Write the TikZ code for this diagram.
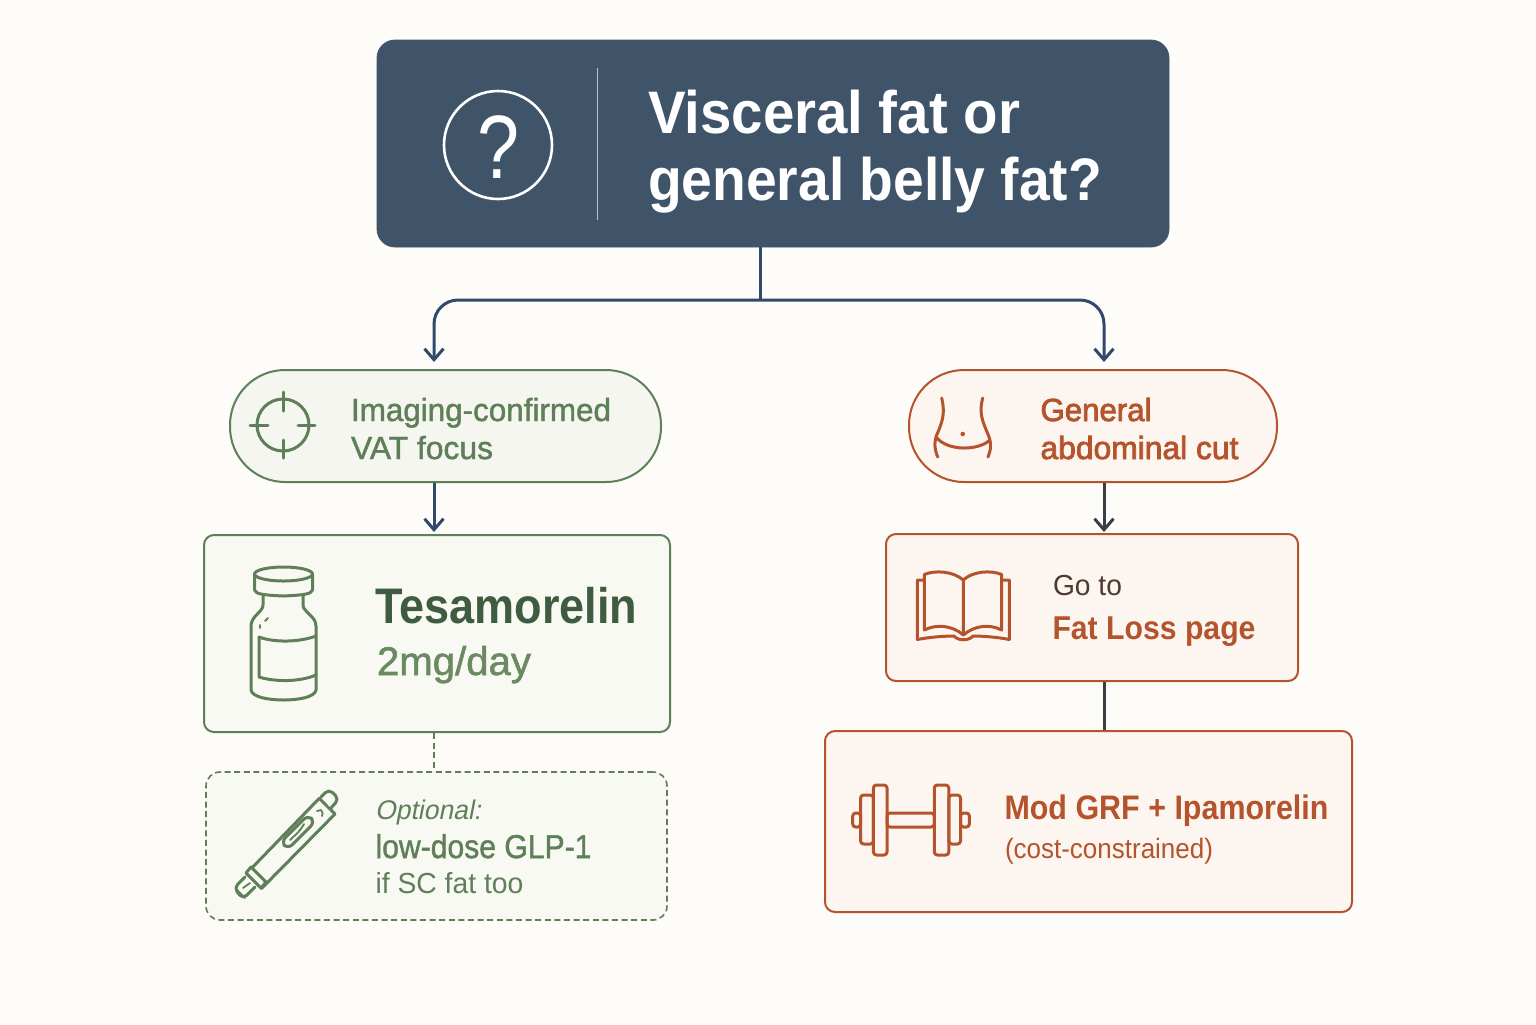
\documentclass[tikz,border=0pt]{standalone}
\usepackage{fontspec}
\usepackage{graphicx}
\usetikzlibrary{arrows.meta}
\setmainfont{Liberation Sans}
\newfontfamily\medf[FakeBold=1.4]{Liberation Sans}
\newfontfamily\semf[FakeBold=2.4]{Liberation Sans}
\newfontfamily\hvyf{Liberation Sans Bold}
\newsavebox\fitbox
\newcommand\fitw[2]{\sbox\fitbox{#2}\pgfmathsetmacro\fitr{(#1/2)/\the\wd\fitbox}\scalebox{\fitr}[1]{\usebox\fitbox}}
\definecolor{bgc}{HTML}{FEFCF8}
\definecolor{navy}{HTML}{3F5469}
\definecolor{linknavy}{HTML}{31496A}
\definecolor{linkdark}{HTML}{3A3F45}
\definecolor{grn}{HTML}{5F7F58}
\definecolor{grndark}{HTML}{3F5C40}
\definecolor{grnmid}{HTML}{6C8A62}
\definecolor{grnfill}{HTML}{F9F9F4}
\definecolor{grnpill}{HTML}{F4F6EF}
\definecolor{org}{HTML}{B4532C}
\definecolor{orgfill}{HTML}{FDF6F0}
\definecolor{brownt}{HTML}{4D3A32}
\tikzset{
  boxbase/.style={draw, line width=1pt, minimum width=#1, inner sep=0pt},
  greenbox/.style={boxbase=#1, draw=grn, fill=grnfill, rounded corners=5pt},
  orangebox/.style={boxbase=#1, draw=org, fill=orgfill, rounded corners=5pt},
  lbl/.style={anchor=base west, inner sep=0pt, outer sep=0pt},
  link/.style={line width=1.5pt, draw=linknavy},
  linkd/.style={line width=1.5pt, draw=linkdark},
  tip/.style={-{Straight Barb[length=5.5pt,width=9.5pt,line width=1.5pt]}},
  igr/.style={draw=grn, line width=1.5pt, line cap=round, line join=round},
  ior/.style={draw=org, line width=1.5pt, line cap=round, line join=round},
}
\begin{document}
\begin{tikzpicture}[x=0.5pt,y=-0.5pt]
\useasboundingbox (0,0) rectangle (1536,1024);
\fill[bgc] (0,0) rectangle (1536,1024);

% boxes
\node[draw=navy, fill=navy, rounded corners=9pt, minimum width=396pt, minimum height=103.5pt, inner sep=0pt] (top) at (773,143.5) {};
\node[greenbox=215.5pt, fill=grnpill, rounded corners=27.5pt, minimum height=56pt] (pillg) at (445.5,426) {};
\node[orangebox=184pt, rounded corners=27.5pt, minimum height=56pt] (pillo) at (1093,426) {};
\node[greenbox=233pt, minimum height=98.5pt] (tes) at (437,633.5) {};
\node[greenbox=230.5pt, dash pattern=on 3pt off 1.8pt, line width=0.8pt, rounded corners=7pt, minimum height=74pt] (opt) at (436.5,846) {};
\node[orangebox=206pt, minimum height=73.5pt] (goto) at (1092,607.5) {};
\node[orangebox=263.5pt, minimum height=90.5pt] (mod) at (1088.5,821.5) {};

% connectors
\coordinate (split) at (760,300);
\coordinate (gl) at (434,362);
\coordinate (gr) at (1104,362);
\draw[link] (top.south -| split) -- (split);
\draw[link,tip,rounded corners=12pt] (split) -| (gl);
\draw[link,tip,rounded corners=12pt] (split) -| (gr);
\draw[link,tip,shorten >=1pt] (pillg.south -| gl) -- (tes.north -| gl);
\draw[linkd,tip,shorten >=0.5pt] (pillo.south -| gr) -- (goto.north -| gr);
\draw[linkd] (goto.south -| gr) -- (mod.north -| gr);
\draw[draw=grn,line width=0.8pt,dash pattern=on 3pt off 1.8pt] (tes.south -| gl) -- (opt.north -| gl);

% header
\draw[white,line width=1.3pt] (498,145) circle (54);
\draw[white,opacity=.65,line width=0.5pt] (597,68) -- (597,220);
\node[lbl,text=white] (qmark) at (477,178) {\fitw{42}{\fontsize{45}{45}\selectfont ?}};
\node[lbl,text=white] (t1) at (648,133) {\fitw{372}{\fontsize{30}{30}\hvyf Visceral fat or}};
\node[lbl,text=white] (t2) at (648,200) {\fitw{454}{\fontsize{30}{30}\hvyf general belly fat?}};

% green labels
\node[lbl,text=grn] (a1) at (351,421) {\fitw{260}{\fontsize{16}{16}\medf Imaging-confirmed}};
\node[lbl,text=grn] (a2) at (351,459) {\fitw{142}{\fontsize{16}{16}\medf VAT focus}};
\node[lbl,text=grndark] (b1) at (375.5,623) {\fitw{262}{\fontsize{25}{25}\hvyf Tesamorelin}};
\node[lbl,text=grnmid] (b2) at (377,675) {\fitw{154}{\fontsize{20}{20}\medf 2mg/day}};
\node[lbl,text=grn] (c1) at (375,819) {\fitw{106}{\fontsize{13.5}{13.5}\selectfont\addfontfeature{FakeSlant=0.2}Optional:}};
\node[lbl,text=grn] (c2) at (375.5,858) {\fitw{216}{\fontsize{16.5}{16.5}\medf low-dose GLP-1}};
\node[lbl,text=grn] (c3) at (375.5,893) {\fitw{148}{\fontsize{14.5}{14.5}\selectfont if SC fat too}};

% orange labels
\node[lbl,text=org] (d1) at (1040.5,421) {\fitw{111}{\fontsize{16}{16}\semf General}};
\node[lbl,text=org] (d2) at (1040.5,459) {\fitw{198}{\fontsize{16}{16}\semf abdominal cut}};
\node[lbl,text=brownt] (e1) at (1053,595) {\fitw{69}{\fontsize{14.5}{14.5}\selectfont Go to}};
\node[lbl,text=org] (e2) at (1052.5,639) {\fitw{203}{\fontsize{16.5}{16.5}\hvyf Fat Loss page}};
\node[lbl,text=org] (f1) at (1004.5,819) {\fitw{324}{\fontsize{17}{17}\hvyf Mod GRF + Ipamorelin}};
\node[lbl,text=org] (f2) at (1005,858) {\fitw{208}{\fontsize{14}{14}\selectfont (cost-constrained)}};

% target icon
\draw[igr] (283,425) circle (26);
\draw[igr] (250,425) -- (268,425) (298,425) -- (315,425) (283,392) -- (283,411) (283,440) -- (283,458);

% vial
\draw[igr] (283.5,574) ellipse (29 and 7);
\draw[igr] (254.5,574) -- (254.5,590) .. controls (256,594) and (262,595) .. (283.5,596) .. controls (305,595) and (311,594) .. (312.5,590) -- (312.5,574);
\draw[igr] (263,595) -- (263,605) .. controls (263,612) and (251,616) .. (251,626) -- (251,690) .. controls (252,697) and (268,700) .. (283.5,700) .. controls (299,700) and (315,697) .. (316,690) -- (316,626) .. controls (316,616) and (303,612) .. (303,605) -- (303,595);
\draw[igr] (259,637) .. controls (275,643) and (300,642) .. (316,636);
\draw[igr] (259,637) -- (259,677) .. controls (275,682) and (300,682) .. (316,675);
\draw[igr,line width=0.9pt] (265,621) -- (268,618) (260,625) -- (260,628);

% pen
\draw[igr] (319.3,798.3) -- (335,814) -- (261.7,888.3) -- (246.7,873.3) -- cycle;
\draw[igr,fill=grnfill,rounded corners=2.5pt] (321,797) -- (329,789) -- (339,799) -- (331,808);
\draw[igr,fill=grnfill] (251,867) -- (266,882) -- (261,888) -- (246,873) -- cycle;
\draw[igr,rounded corners=2.5pt] (245,877) -- (234,888) -- (243,899) -- (255,887);
\draw[igr,line width=0.9pt] (243,888) -- (250,883) (236,889) -- (245,898);
\draw[igr,rounded corners=3pt] (315,822) -- (308,815) -- (281,842) -- (288,849) -- cycle;
\draw[igr,line width=0.9pt] (290,840) .. controls (296,834) and (298,834) .. (304,824);
\draw[igr,line width=0.9pt] (317,811) -- (321,810) .. controls (323,812) and (323,814) .. (322,816);

% belly
\draw[ior] (941.7,398) .. controls (945,412) and (943,420) .. (938,432) .. controls (933,442) and (935,450) .. (937.7,457);
\draw[ior] (982.7,398) .. controls (979,412) and (982,420) .. (987,432) .. controls (992,442) and (991,450) .. (988,457);
\draw[ior] (937,438) .. controls (948,451) and (978,451) .. (990,440);
\fill[org] (962.7,434) circle (2.3);

% book
\draw[ior] (963.3,580) .. controls (953,571) and (935,570) .. (924.3,574.5) -- (924.3,630) .. controls (936,624) and (952,625) .. (963.3,635) .. controls (975,625) and (990,624) .. (1001.7,630) -- (1001.7,574.5) .. controls (991,570) and (973,571) .. (963.3,580) -- (963.3,635);
\draw[ior] (924.3,580) -- (917.3,580) -- (917.3,639.5) .. controls (930,637) and (945,636) .. (954,636) .. controls (958,641) and (969,641) .. (973,636) .. controls (982,636) and (997,637) .. (1009.3,639.5) -- (1009.3,580) -- (1001.7,580);

% dumbbell
\draw[ior,rounded corners=1.5pt] (887,813) rectangle (934.3,827);
\draw[ior,rounded corners=1.5pt] (852.7,813) rectangle (860.6,827);
\draw[ior,rounded corners=1.5pt] (960.5,813) rectangle (969.4,827);
\draw[ior,rounded corners=1.5pt] (860.6,795) rectangle (873.4,844);
\draw[ior,rounded corners=1.5pt] (948.8,795) rectangle (960.5,844);
\draw[ior,rounded corners=1.5pt] (873.4,785) rectangle (887,855);
\draw[ior,rounded corners=1.5pt] (934.3,785) rectangle (948.8,855);
\end{tikzpicture}
\end{document}
